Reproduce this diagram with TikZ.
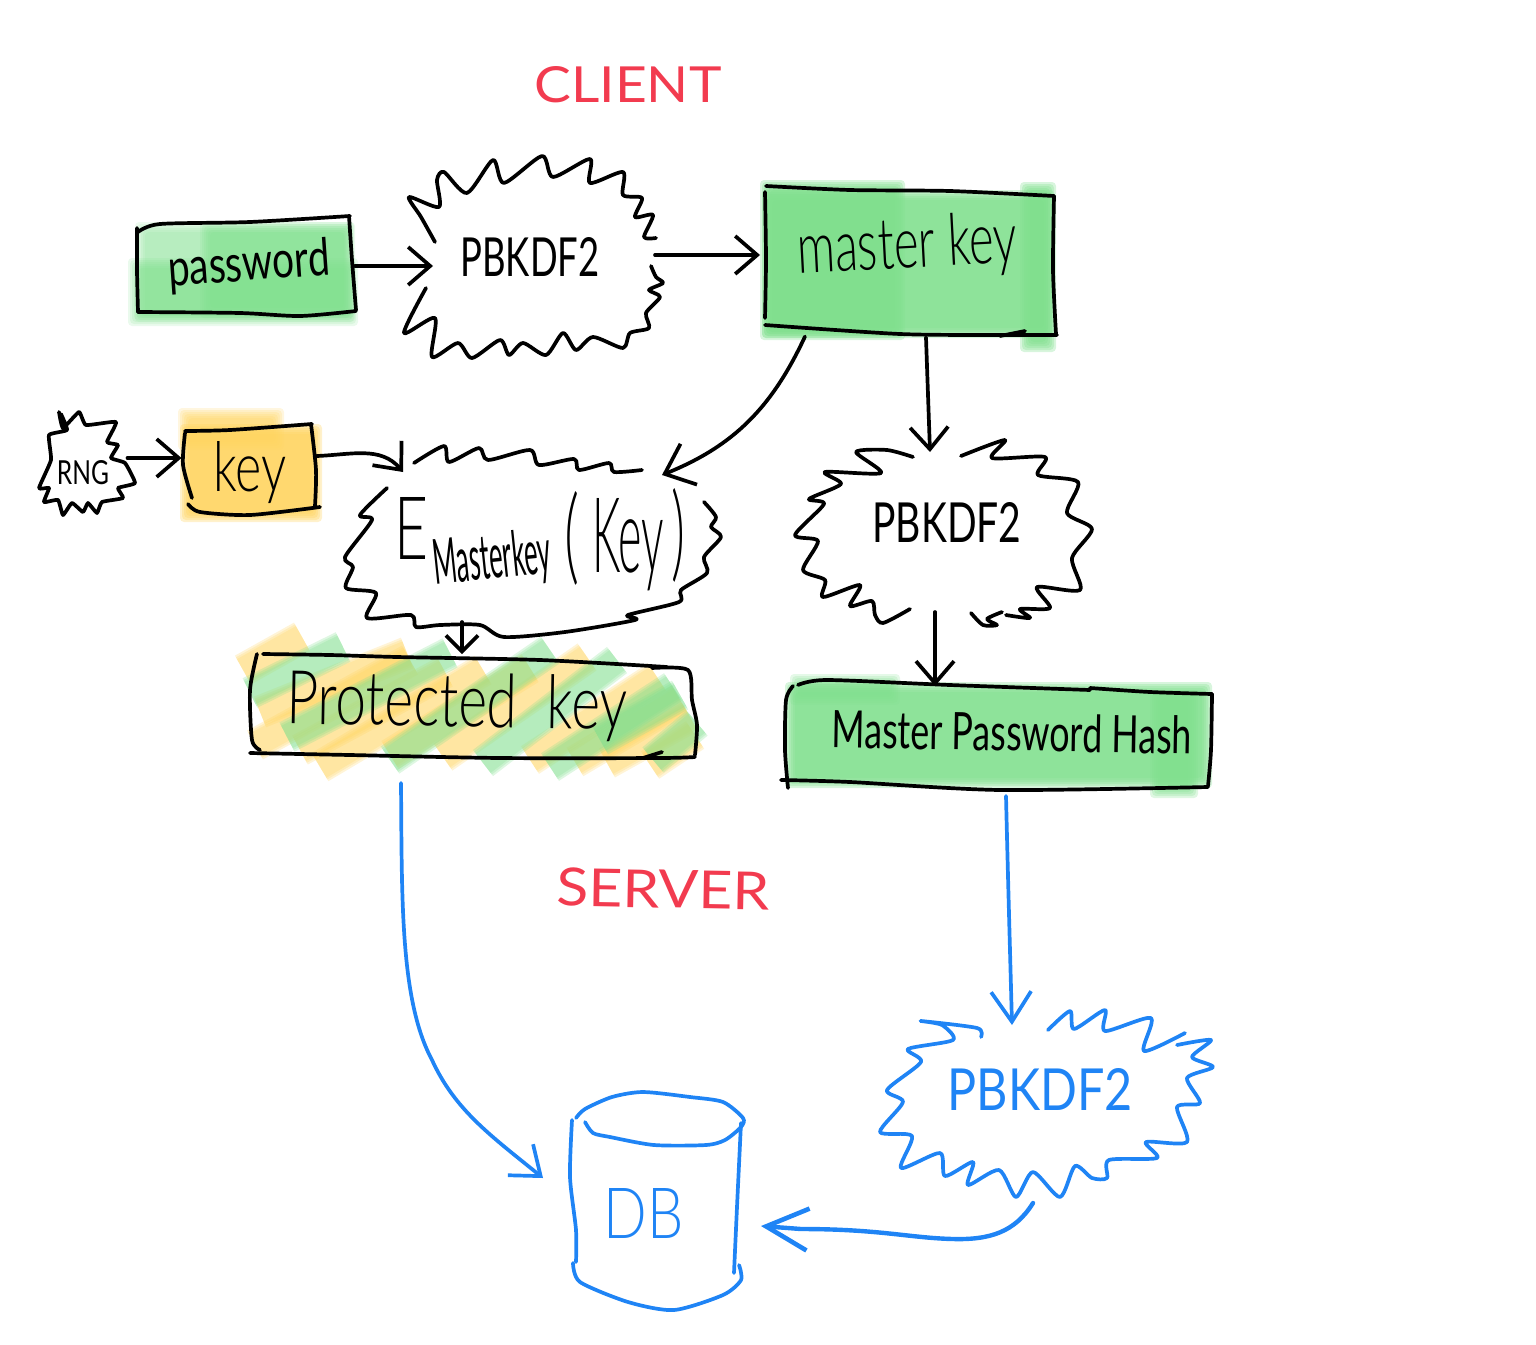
\documentclass[tikz,border=0pt]{standalone}
\usepackage{fontspec}
\usepackage{graphicx}
\setmainfont{Lato}
\newfontfamily\lightface{Lato}[UprightFont=* Light]
\usetikzlibrary{arrows.meta,shapes.geometric}
\definecolor{leaf}{HTML}{7FDF8D}
\definecolor{sun}{HTML}{FFD45F}
\definecolor{redink}{HTML}{F23B4F}
\definecolor{blueink}{HTML}{1F84F5}
\newcommand{\fitted}[3]{\resizebox{#1pt}{#2pt}{#3}}
% soft-edged wash: colour, opacity per layer, corners
\newcommand{\softbox}[6]{\foreach \d in {0,2,4,6,8,10}{\fill[#1,opacity=#2,rounded corners=4pt] ({#3+\d},{#4+\d}) rectangle ({#5-\d},{#6-\d});}}
\newcommand{\softstrip}[5]{\foreach \w in {33,29,25}{\draw[#1,line width=\w pt,opacity=.25] (#2,#3) -- (#4,#5);}}
\tikzset{
  ink/.style={line width=3.7pt,line cap=round,line join=round,draw=black},
  bink/.style={line width=3.7pt,line cap=round,line join=round,draw=blueink},
  arr/.style={ink,-{Straight Barb[length=22pt,width=38pt,line width=3.7pt]}},
  barr/.style={bink,-{Straight Barb[length=26pt,width=40pt,line width=3.7pt]}},
  frame/.style={rectangle,inner sep=0pt,outer sep=0pt},
  lab/.style={inner sep=0pt,outer sep=0pt,text=black},
  blab/.style={inner sep=0pt,outer sep=0pt,text=blueink},
  rlab/.style={inner sep=0pt,outer sep=0pt,text=redink},
  hand/.style={smooth,tension=.45},
}
\begin{document}
\begin{tikzpicture}[x=1pt,y=-1pt]
\useasboundingbox (0,0) rectangle (1536,1344);

% ---------- washes
\softbox{leaf}{.13}{135}{222}{355}{322}
\softbox{leaf}{.16}{128}{258}{358}{326}
\softbox{leaf}{.17}{200}{222}{354}{318}

\softbox{leaf}{.3}{760}{180}{905}{340}
\softbox{leaf}{.3}{762}{190}{1054}{338}
\softbox{leaf}{.3}{1020}{182}{1056}{352}

\softbox{leaf}{.3}{785}{682}{1212}{788}
\softbox{leaf}{.2}{790}{674}{900}{705}
\softbox{leaf}{.25}{1150}{690}{1198}{798}

\softbox{sun}{.2}{178}{408}{284}{450}
\softbox{sun}{.32}{180}{424}{322}{522}

\softstrip{sun}{243}{670}{302}{637}
\softstrip{sun}{255}{745}{410}{660}
\softstrip{sun}{260}{712}{407}{653}
\softstrip{sun}{320}{767}{483}{670}
\softstrip{sun}{300}{750}{445}{672}
\softstrip{sun}{390}{755}{530}{668}
\softstrip{sun}{443}{757}{587}{657}
\softstrip{sun}{530}{760}{657}{677}
\softstrip{sun}{575}{762}{680}{700}
\softstrip{sun}{607}{763}{690}{717}
\softstrip{sun}{650}{765}{695}{735}
\softstrip{leaf}{250}{693}{343}{647}
\softstrip{leaf}{287}{737}{450}{653}
\softstrip{leaf}{390}{760}{550}{650}
\softstrip{leaf}{483}{763}{617}{660}
\softstrip{leaf}{550}{767}{673}{687}
\softstrip{leaf}{600}{740}{680}{695}
\softstrip{leaf}{653}{760}{697}{723}

% ---------- frames (layout anchors) and labels
\node[frame,minimum width=218pt,minimum height=98pt] (pw) at (246,266) {};
\node[frame,minimum width=222pt,minimum height=195pt] (kdfa) at (544,257) {};
\node[frame,minimum width=290pt,minimum height=147pt] (mk) at (910,261) {};
\node[frame,minimum width=95pt,minimum height=105pt] (rng) at (80,462) {};
\node[frame,minimum width=133pt,minimum height=90pt] (key) at (250,469) {};
\node[frame,minimum width=375pt,minimum height=170pt] (enc) at (533,540) {};
\node[frame,minimum width=295pt,minimum height=170pt] (kdfb) at (942,533) {};
\node[frame,minimum width=445pt,minimum height=102pt] (pk) at (473,705) {};
\node[frame,minimum width=425pt,minimum height=100pt] (mph) at (998,736) {};
\node[frame,minimum width=170pt,minimum height=220pt] (db) at (656,1200) {};
\node[frame,minimum width=330pt,minimum height=190pt] (kdfc) at (1047,1103) {};

\node[rlab] (client) at (628,85) {\fitted{187}{36}{CLIENT}};
\node[rlab,rotate=-1] (server) at (663,889) {\fitted{213}{38}{SERVER}};
\node[lab,rotate=4] (pwt) at (249,266) {\fitted{162}{38}{password}};
\node[lab] (kdfat) at (530,257) {\fitted{139}{39}{PBKDF2}};
\node[lab,rotate=3] (mkt) at (907,248) {\fitted{220}{52}{\lightface master key}};
\node[lab] (rngt) at (83,473) {\fitted{52}{24}{RNG}};
\node[lab] (keyt) at (250,473) {\fitted{73}{50}{\lightface key}};
\node[lab] (ebig) at (412,528) {\fitted{34}{62}{\lightface E}};
\node[lab,rotate=6] (esub) at (492,561) {\fitted{118}{46}{Masterkey}};
\node[lab] (parl) at (572,538) {\fitted{15}{80}{\lightface (}};
\node[lab] (ekey) at (628,545) {\fitted{72}{74}{\lightface Key}};
\node[lab] (parr) at (678,535) {\fitted{14}{80}{\lightface )}};
\node[lab] (kdfbt) at (947,522) {\fitted{149}{40}{PBKDF2}};
\node[lab,rotate=-1] (pkt) at (457,706) {\fitted{340}{54}{\lightface Protected~ key}};
\node[lab,rotate=-1] (mpht) at (1012,732) {\fitted{360}{38}{Master Password Hash}};
\node[blab] (dbt) at (644,1213) {\fitted{80}{50}{\lightface DB}};
\node[blab] (kdfct) at (1040,1089) {\fitted{185}{42}{PBKDF2}};

% ---------- hand-drawn outlines
\draw[ink] plot[hand] coordinates {(138,232) (160,224) (250,222) (350,216)};
\draw[ink] plot[hand] coordinates {(349,216) (352,260) (356,310)};
\draw[ink] plot[hand] coordinates {(356,311) (300,316) (240,313) (138,312)};
\draw[ink] plot[hand] coordinates {(138,312) (137,270) (137,228)};

\draw[ink] plot[hand] coordinates {(766,186) (850,190) (950,191) (1054,196)};
\draw[ink] plot[hand] coordinates {(1054,196) (1053,270) (1056,334)};
\draw[ink] plot[hand] coordinates {(1057,335) (1000,335) (900,334) (765,325)};
\draw[ink] plot[hand] coordinates {(765,192) (766,260) (765,318)};
\draw[ink] (1000,336) -- (1025,331);

\draw[ink] plot[hand] coordinates {(185,431) (230,430) (312,424)};
\draw[ink] plot[hand] coordinates {(311,424) (316,470) (315,506)};
\draw[ink] plot[hand] coordinates {(188,504) (200,512) (250,515) (320,507)};
\draw[ink] plot[hand] coordinates {(185,433) (183,465) (192,498)};

\draw[ink] plot[hand] coordinates {(263,654) (330,655) (397,657) (540,660) (667,667)};
\draw[ink] plot[hand] coordinates {(652,668) (688,670) (692,700) (697,725) (695,755)};
\draw[ink] plot[hand] coordinates {(695,757) (660,758) (500,758) (350,755) (250,753)};
\draw[ink] plot[hand] coordinates {(257,654) (250,690) (252,740) (260,750)};
\draw[ink] (643,758) -- (662,752);

\draw[ink] plot[hand] coordinates {(798,685) (827,680) (950,685) (1090,690)};
\draw[ink] plot[hand] coordinates {(1090,688) (1150,692) (1212,694)};
\draw[ink] plot[hand] coordinates {(1212,694) (1211,750) (1208,786)};
\draw[ink] plot[hand] coordinates {(1208,787) (1000,790) (850,782) (781,780)};
\draw[ink] plot[hand] coordinates {(793,686) (786,700) (785,750) (788,788)};

% PBKDF2 top
\draw[ink] plot[hand] coordinates {(435,242) (421,217) (409,197) (439,207) (437,180) (444,172) (467,193) (493,160) (504,183) (542,156) (553,177) (590,159) (590,183) (623,172) (623,195) (642,198) (635,217) (653,215) (644,237) (656,238)};
\draw[ink] plot[hand] coordinates {(651,266) (656,277) (663,283) (649,290) (660,297) (646,313) (649,328) (630,333) (623,348) (593,337) (576,350) (563,333) (546,355) (523,343) (509,355) (500,340) (472,358) (458,343) (432,357) (435,318) (404,333) (426,288)};

% RNG
\draw[ink] plot[smooth,tension=.25] coordinates {(59,412) (63,428) (79,412) (86,425) (116,422) (107,442) (118,445) (111,458) (125,463) (135,483) (118,488) (123,498) (102,502) (97,513) (88,503) (83,512) (72,503) (63,515) (58,500) (44,502) (49,488) (39,488) (51,460) (49,435) (67,430) (61,414)};

% E cloud
\draw[ink] plot[hand] coordinates {(414,463) (444,446) (449,462) (479,448) (488,460) (530,450) (539,465) (574,459) (579,470) (609,463) (614,472) (642,470)};
\draw[ink] plot[hand] coordinates {(704,502) (716,517) (711,527) (721,537) (704,557) (707,573) (681,590) (679,602) (628,615) (635,620) (565,632) (504,637) (480,625) (440,625) (416,627) (411,615) (367,618) (376,593) (346,588) (353,567) (345,557) (372,520) (360,515) (387,488)};

% PBKDF2 right
\draw[ink] plot[hand] coordinates {(913,457) (887,450) (856,452) (881,473) (825,472) (841,484) (809,499) (824,504) (795,535) (818,541) (803,570) (825,580) (823,597) (860,585) (850,606) (872,601) (875,615) (883,623) (910,609)};
\draw[ink] plot[hand] coordinates {(961,456) (1005,440) (992,458) (1045,457) (1038,475) (1078,482) (1067,513) (1092,529) (1072,558) (1080,590) (1037,587) (1050,608) (1020,609) (1030,618) (1006,615)};
\draw[ink] plot[hand] coordinates {(971,613) (983,625) (997,625) (987,619) (1002,612)};

% ---------- black connectors
\draw[arr] (pw.east) -- (pw.east -| kdfa.west);
\draw[arr] ([yshift=2pt]kdfa.east) -- ([xshift=-5pt,yshift=2pt]kdfa.east -| mk.west);
\draw[arr] ([xshift=16pt,yshift=-3pt]mk.south) -- ([xshift=-12pt,yshift=-4pt]kdfb.north);
\draw[arr,-{Straight Barb[length=26pt,width=44pt,line width=3.7pt]}] ([xshift=-105pt,yshift=-2pt]mk.south) to[out=-115,in=22] ([xshift=129pt,yshift=-20pt]enc.north);
\draw[arr] ([yshift=4pt]rng.east) -- ([xshift=-2pt,yshift=11pt]key.west);
\draw[arr] ([yshift=13pt]key.east) to[out=2,in=130] ([xshift=-130pt,yshift=-17pt]enc.north);
\draw[ink,-{Straight Barb[length=16pt,width=32pt,line width=3.7pt]}] ([xshift=-71pt,yshift=3pt]enc.south) -- ([xshift=-11pt]pk.north);
\draw[arr] ([xshift=-7pt,yshift=6pt]kdfb.south) -- ([xshift=-63pt]mph.north);

% ---------- blue part
\draw[barr] ([xshift=-72pt,yshift=-27pt]pk.south) .. controls (402,900) and (400,1000) .. (432,1060) .. controls (455,1110) and (490,1135) .. ([xshift=-28pt,yshift=22pt]db.west);
\draw[barr,-{Straight Barb[length=30pt,width=40pt,line width=3.7pt]}] ([xshift=8pt,yshift=-10pt]mph.south) .. controls (1008,880) and (1010,950) .. ([xshift=-35pt,yshift=-17pt]kdfc.north);

\draw[bink] plot[hand] coordinates {(981,1037) (977,1028) (921,1021) (942,1025) (953,1040) (908,1049) (921,1062) (887,1090) (903,1102) (880,1132) (912,1136) (901,1168) (940,1153) (945,1176) (973,1162) (968,1185) (999,1170) (1016,1197) (1033,1172) (1060,1197) (1075,1166) (1092,1178) (1107,1178) (1109,1160) (1157,1158) (1146,1142) (1187,1142) (1177,1107) (1200,1103) (1187,1078) (1213,1067) (1192,1057) (1211,1040) (1177,1045)};
\draw[bink] plot[hand] coordinates {(1185,1033) (1144,1051) (1151,1018) (1105,1031) (1105,1010) (1074,1029) (1070,1011) (1048,1030)};

\draw[bink,line width=4.4pt,-{Straight Barb[length=42pt,width=42pt,line width=4.6pt]}] ([xshift=-14pt,yshift=-5pt]kdfc.south) .. controls (1015,1232) and (990,1240) .. (953,1239) .. controls (910,1238) and (880,1229) .. (801,1229) -- ([xshift=20pt,yshift=-26pt]db.east);

% DB
\draw[bink] plot[hand] coordinates {(576,1118) (585,1109) (612,1097) (643,1092) (690,1097) (723,1102) (743,1118) (741,1127) (725,1140) (706,1145) (654,1145) (610,1137) (593,1133) (585,1122)};
\draw[bink] plot[hand] coordinates {(572,1120) (570,1177) (576,1230) (576,1262)};
\draw[bink] plot[hand] coordinates {(741,1123) (737,1207) (734,1273)};
\draw[bink] plot[hand] coordinates {(573,1263) (580,1282) (628,1302) (674,1310) (723,1295) (741,1280) (739,1265)};
\end{tikzpicture}
\end{document}
